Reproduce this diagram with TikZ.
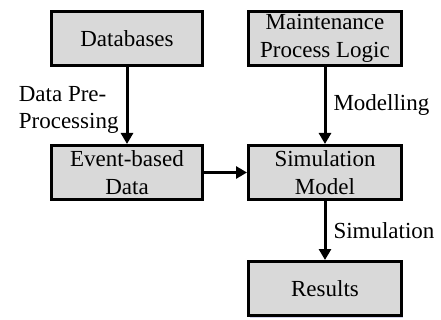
\documentclass[tikz,border=0pt]{standalone}
\usepackage{fontspec}
\setmainfont{Liberation Serif}
\usetikzlibrary{arrows.meta,shadows}

\begin{document}
\begin{tikzpicture}[x=1pt,y=-1pt,
    >={Triangle[length=11pt,width=12pt]},
    font=\fontsize{23}{27.5}\selectfont]

      \useasboundingbox (0,0) rectangle (441,320);

      \begin{scope}[every node/.style={draw,line width=3pt,fill=black!15,
          minimum width=151pt,minimum height=54pt,inner sep=0pt,align=center,
          drop shadow={shadow xshift=1.5pt,shadow yshift=-2pt,fill=blue!40!gray,opacity=.25}}]
        \node (db)  at (127,38.5)  {Databases};
        \node (mpl) at (325,38.5)  [minimum width=153pt] {Maintenance\\Process Logic};
        \node (ebd) at (127,172.5) {Event-based\\Data};
        \node (sim) at (325,172.5) [minimum width=153pt] {Simulation\\Model};
        \node (res) at (325,288.5) [minimum width=153pt] {Results};
      \end{scope}

      \begin{scope}[line width=3pt,every node/.style={inner sep=7pt}]
        \draw[->] (db)  -- node[left,align=left,pos=.56] {Data Pre-\\Processing} (ebd);
        \draw[->] (mpl) -- node[right] {Modelling} (sim);
        \draw[->] (ebd) -- (sim);
        \draw[->] (sim) -- node[right] {Simulation} (res);
      \end{scope}

    \end{tikzpicture}
\end{document}
